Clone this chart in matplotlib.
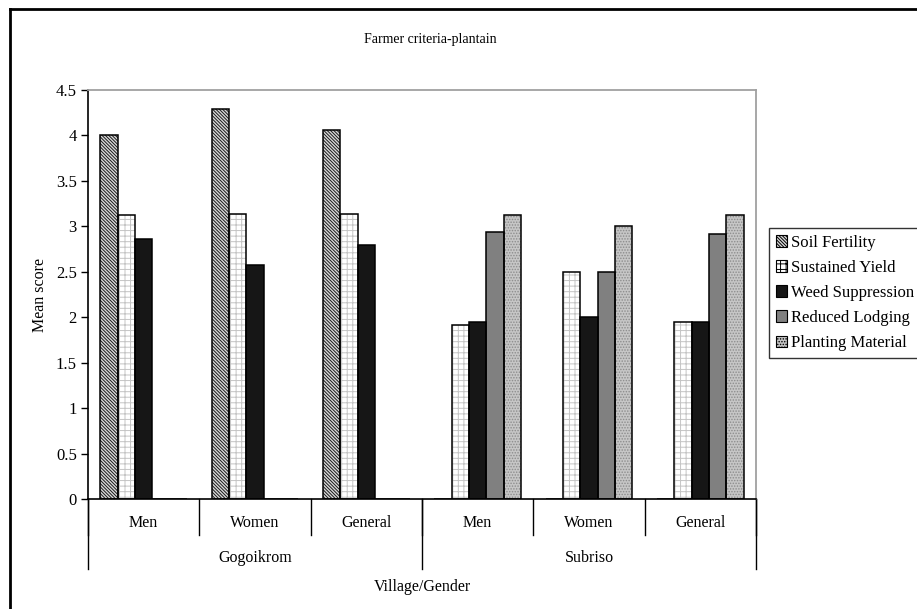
import numpy as np
import matplotlib
matplotlib.use("Agg")
import matplotlib.pyplot as plt
from matplotlib.lines import Line2D

categories = ["Men", "Women", "General", "Men", "Women", "General"]
villages = ["Gogoikrom", "Subriso"]
series_names = ["Soil Fertility", "Sustained Yield", "Weed Suppression",
                "Reduced Lodging", "Planting Material"]
soil_fertility = [4.0, 4.29, 4.06, 0, 0, 0]
sustained_yield = [3.13, 3.14, 3.14, 1.91, 2.50, 1.95]
weed_suppression = [2.86, 2.57, 2.80, 1.95, 2.00, 1.95]
reduced_lodging = [0, 0, 0, 2.94, 2.50, 2.92]
planting_material = [0, 0, 0, 3.12, 3.00, 3.12]
y_ticks = [0, 0.5, 1, 1.5, 2, 2.5, 3, 3.5, 4, 4.5]

series = [soil_fertility, sustained_yield, weed_suppression, reduced_lodging, planting_material]
faces = ["#d8d8d8", "white", "#161616", "#808080", "#c6c6c6"]
hatches = ["\\" * 10, "+++", None, None, "." * 6]
hatch_cols = ["#1a1a1a", "#c4c4c4", "#000000", "#000000", "#8c8c8c"]

plt.rcParams['font.family'] = ['Liberation Serif', 'DejaVu Serif']
plt.rcParams['hatch.linewidth'] = 0.7

W, H = 917, 609
fig = plt.figure(figsize=(W / 100, H / 100), dpi=100)
ax = fig.add_axes([88 / W, 1 - 499 / H, (756 - 88) / W, (499 - 90) / H])

n = len(categories)
ns = len(series)
x = np.arange(n)
bw = 1 / (ns + 1.43)
for i, (vals, fc, ht, hc) in enumerate(zip(series, faces, hatches, hatch_cols)):
    pos = x - 0.5 + 1.43 * bw / 2 + bw * (i + 0.5)
    ax.bar(pos, vals, width=bw, color=fc, hatch=ht, edgecolor=hc, linewidth=0, zorder=2)
    ax.bar(pos, vals, width=bw, facecolor='none', edgecolor='black', linewidth=1.1, zorder=3)

ax.set_xlim(-0.5, n - 0.5)
ax.set_ylim(0, 4.5)
ax.set_yticks(y_ticks)
ax.set_yticklabels([f"{t:g}" for t in y_ticks], fontsize=12)
ax.tick_params(axis='y', direction='out', length=5, width=1, pad=3)
ax.set_xticks([])
for s in ['top', 'right']:
    ax.spines[s].set_color('#a0a0a0')
    ax.spines[s].set_linewidth(1.3)
ax.spines['left'].set_linewidth(1.2)
ax.spines['bottom'].set_linewidth(1.2)
ax.set_ylabel("Mean score", fontsize=11.5, labelpad=6)

trans = ax.get_xaxis_transform()
def fy(py):
    return 1 - py / H
def ay(py):
    return (499 - py) / (499 - 90)

for b in np.arange(n + 1) - 0.5:
    ax.add_line(Line2D([b, b], [0, ay(535)], transform=trans, color='black', lw=1, clip_on=False))
for b in [-0.5, 2.5, 5.5]:
    ax.add_line(Line2D([b, b], [0, ay(569)], transform=trans, color='black', lw=1, clip_on=False))
for i, c in enumerate(categories):
    ax.text(i, ay(523), c, transform=trans, ha='center', va='center', fontsize=11.5)
for j, v in enumerate(villages):
    ax.text(1 + 3 * j, ay(558), v, transform=trans, ha='center', va='center', fontsize=11.5)
ax.text(2.5, ay(587), "Village/Gender", transform=trans, ha='center', va='center', fontsize=11.5)

fig.text(430 / W, fy(40), "Farmer criteria-plantain", ha='center', va='center', fontsize=10)

fig.add_artist(Line2D([10 / W, 10 / W], [0, fy(9)], transform=fig.transFigure, color='black', lw=2))
fig.add_artist(Line2D([10 / W, 1], [fy(9), fy(9)], transform=fig.transFigure, color='black', lw=2))

handles = [plt.Rectangle((0, 0), 1, 1, facecolor=fc, hatch=ht, edgecolor='black', linewidth=0.8)
           for fc, ht in zip(faces, hatches)]
leg = fig.legend(handles, series_names, loc='upper left', bbox_to_anchor=(769 / W, fy(228)),
                 bbox_transform=fig.transFigure, fontsize=12, frameon=True, fancybox=False,
                 handlelength=0.7, handleheight=0.7, handletextpad=0.2, labelspacing=0.55,
                 borderpad=0.4, borderaxespad=0)
leg.get_frame().set_edgecolor('black')
leg.get_frame().set_linewidth(1.0)

fig.savefig("out.png", dpi=100)
